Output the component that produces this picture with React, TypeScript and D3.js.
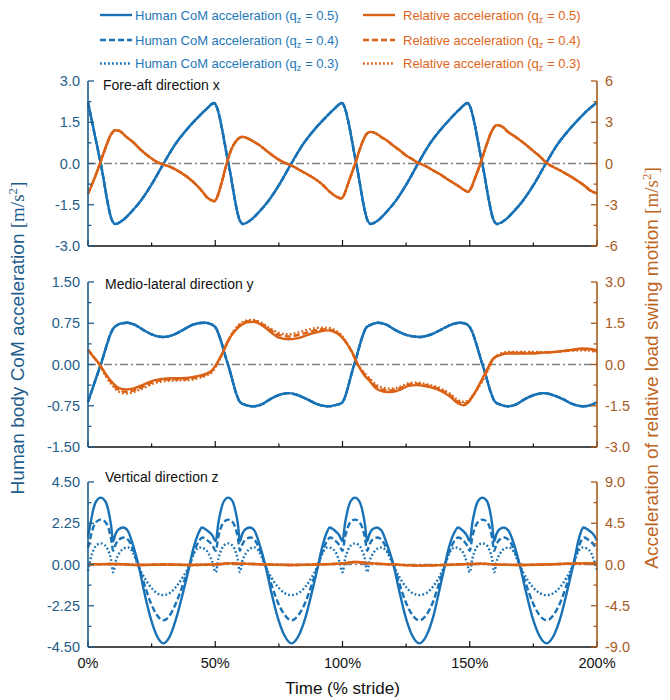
import React from "react";
import * as d3 from "d3";

type Pt = [number, number];

// ---------- stride axis ----------
const strideTicks = [0, 50, 100, 150, 200];
const strideMinorTicks = [25, 75, 125, 175];
const strideTickLabels = ["0%", "50%", "100%", "150%", "200%"];
const qLevels = ["0.5", "0.4", "0.3"];

// ---------- fore-aft direction x ----------
// human CoM acceleration [m/s²] (identical for every q_z)
const comAccX: Pt[] = [
  [0, 2.22], [5.0, 0.0], [9.6, -2.1], [10.6, -2.2],
  [13.7, -2.06], [16.8, -1.78], [20.7, -1.36], [25.0, -0.76], [29.7, 0], [34.0, 0.66], [38.3, 1.18], [42.6, 1.62], [46.5, 1.98], [49.6, 2.2],
  [50.1, 2.15], [55.2, 0], [59.8, -2.1], [60.8, -2.2],
  [63.9, -2.06], [67.0, -1.78], [70.9, -1.36], [75.2, -0.76], [79.9, 0], [84.2, 0.66], [88.5, 1.18], [92.8, 1.62], [96.7, 1.98], [99.8, 2.2],
  [100.3, 2.15], [105.4, 0], [110.0, -2.1], [111.0, -2.2],
  [114.1, -2.06], [117.1, -1.78], [120.9, -1.36], [125.1, -0.76], [129.7, 0], [133.9, 0.66], [138.1, 1.18], [142.3, 1.62], [146.1, 1.98], [149.2, 2.2],
  [149.7, 2.15], [154.9, 0], [159.6, -2.1], [160.6, -2.2],
  [163.8, -2.06], [166.9, -1.78], [170.8, -1.36], [175.2, -0.76], [179.9, 0], [184.2, 0.66], [188.6, 1.18], [192.9, 1.62], [196.8, 1.98], [200, 2.22],
];
// relative load swing acceleration [m/s²]
const relAccX05: Pt[] = [
  [0, -2.2], [2.5, -1.1], [4.7, 0], [7, 1.2], [9, 2.1], [10.8, 2.42], [12.5, 2.35], [15, 1.95], [17.7, 1.55], [21, 0.95], [24.4, 0.44], [27, 0.12], [29.6, -0.07], [33, -0.3], [36, -0.61], [39.5, -1.05], [42.7, -1.58], [45, -2.05], [46.6, -2.43], [48.8, -2.7], [49.7, -2.74],
  [50.5, -2.55], [52.5, -1.4], [54.5, 0], [56.5, 1.1], [58.5, 1.7], [60.5, 1.94], [62.5, 1.85], [65, 1.6], [67.6, 1.3], [70, 0.95], [72.8, 0.55], [75.5, 0.22], [78, 0], [80.5, -0.2], [83.3, -0.49], [86.5, -0.82], [89.9, -1.21], [92.5, -1.6], [95, -2.06], [97.5, -2.4], [99.5, -2.55],
  [100.3, -2.4], [102.5, -1.3], [105, 0], [107.5, 1.4], [109.5, 2.15], [111, 2.3], [113, 2.2], [115, 1.95], [117.2, 1.7], [120, 1.3], [122.4, 0.97], [124.7, 0.62], [127, 0.36], [129, 0.12], [131, -0.05], [133.3, -0.25], [135.5, -0.49], [138, -0.75], [140.8, -1.09], [143.5, -1.4], [146, -1.7], [148, -1.95], [149.3, -2.06],
  [150.2, -1.9], [152.2, -1.0], [154.2, 0], [156.5, 1.3], [158.5, 2.3], [160.7, 2.79], [163, 2.65], [165, 2.3], [167, 2.06], [169.7, 1.7], [172.3, 1.33], [175, 0.9], [177, 0.6], [180.2, 0.04], [182.8, -0.25], [185.4, -0.49], [188.5, -0.82], [192, -1.21], [195, -1.6], [197.2, -1.94], [200, -2.18],
];
const relAccX04: Pt[] = relAccX05;
const relAccX03: Pt[] = relAccX05;

// ---------- medio-lateral direction y ----------
const comAccY: Pt[] = [
  [0, -0.68], [5, 0], [10, 0.66], [11.5, 0.72], [13.5, 0.75], [15.5, 0.76], [18, 0.73], [22, 0.62], [26, 0.53], [29.5, 0.5], [33, 0.53], [37, 0.62], [41, 0.72], [44, 0.755], [46, 0.76], [48, 0.74], [50, 0.68],
  [55, 0], [59.7, -0.68], [61.5, -0.73], [63.5, -0.755], [65, -0.76], [68, -0.73], [72, -0.62], [76, -0.54], [79, -0.52], [82, -0.55], [86, -0.63], [90, -0.72], [93, -0.755], [94.5, -0.76], [97, -0.74], [99.7, -0.7],
  [104.6, 0], [109.5, 0.68], [111.5, 0.73], [114, 0.76], [117, 0.73], [121, 0.62], [125, 0.54], [130.4, 0.5], [135, 0.55], [139, 0.64], [143, 0.73], [146, 0.76], [148.5, 0.74], [150, 0.68],
  [155, 0], [160, -0.68], [162, -0.73], [165, -0.76], [168, -0.73], [172, -0.62], [175.5, -0.55], [179, -0.52], [183, -0.56], [187, -0.64], [191, -0.73], [194.6, -0.76], [197.5, -0.74], [200, -0.68],
];
const relAccY05: Pt[] = [
  [0, 0.52], [2, 0.3], [4.6, 0], [7, -0.35], [9.5, -0.65], [12, -0.85], [15, -0.91], [18, -0.87], [22, -0.72], [26, -0.58], [31, -0.51], [35, -0.5], [39, -0.49], [43, -0.42], [46.5, -0.33], [49, -0.18],
  [51, 0.1], [53, 0.45], [55, 0.85], [57.5, 1.2], [60, 1.42], [62.5, 1.53], [65, 1.55], [68, 1.45], [71.5, 1.2], [75, 0.98], [79, 0.92], [83, 0.97], [87, 1.1], [91, 1.2], [94.4, 1.24], [97, 1.18], [99, 1.06],
  [101, 0.85], [103.5, 0.5], [106, 0], [108.5, -0.38], [110.8, -0.62], [113, -0.86], [116, -0.98], [119, -1.0], [123, -0.9], [126, -0.78], [129, -0.75], [133, -0.8], [138, -0.93], [142, -1.15], [145.5, -1.42], [147.5, -1.48], [149.5, -1.38],
  [151.4, -1.12], [154, -0.68], [156.7, -0.2], [159.3, 0.22], [162, 0.34], [164.5, 0.4], [169, 0.4], [173.7, 0.4], [179, 0.43], [184, 0.46], [189, 0.52], [194.5, 0.58], [197.5, 0.57], [200, 0.52],
];
const relAccY04: Pt[] = [
  [0, 0.54], [2, 0.3], [4.5, 0], [7, -0.38], [9.5, -0.7], [12, -0.92], [15, -0.99], [18, -0.94], [22, -0.79], [26, -0.63], [31, -0.55], [35, -0.54], [39, -0.53], [43, -0.46], [46.5, -0.36], [49, -0.21],
  [51, 0.08], [53, 0.44], [55, 0.85], [57.5, 1.22], [60, 1.46], [62.5, 1.57], [65, 1.59], [68, 1.49], [71.5, 1.27], [75, 1.08], [79, 1.02], [83, 1.08], [87, 1.19], [91, 1.27], [94.4, 1.28], [97, 1.2], [99, 1.08],
  [101, 0.86], [103.5, 0.49], [106, 0], [108.5, -0.33], [110.8, -0.56], [113, -0.78], [116, -0.92], [119, -0.94], [123, -0.85], [126, -0.73], [129, -0.7], [133, -0.76], [138, -0.89], [142, -1.1], [145.5, -1.36], [147.5, -1.42], [149.5, -1.34],
  [151.4, -1.11], [154, -0.72], [156.7, -0.25], [159.3, 0.21], [162, 0.36], [164.5, 0.42], [169, 0.43], [173.7, 0.43], [179, 0.44], [184, 0.46], [189, 0.51], [194.5, 0.55], [197.5, 0.54], [200, 0.48],
];
const relAccY03: Pt[] = [
  [0, 0.55], [2, 0.3], [4.4, 0], [7, -0.42], [9.5, -0.75], [12, -0.98], [15, -1.06], [18, -1.0], [22, -0.85], [26, -0.68], [31, -0.6], [35, -0.58], [39, -0.57], [43, -0.5], [46.5, -0.4], [49, -0.25],
  [51, 0.05], [53, 0.42], [55, 0.85], [57.5, 1.25], [60, 1.5], [62.5, 1.6], [65, 1.62], [68, 1.52], [71.5, 1.32], [75, 1.15], [79, 1.1], [83, 1.17], [87, 1.28], [91, 1.34], [94.4, 1.33], [97, 1.25], [99, 1.12],
  [101, 0.88], [103.5, 0.48], [106, 0], [108.5, -0.3], [110.8, -0.52], [113, -0.72], [116, -0.85], [119, -0.88], [123, -0.8], [126, -0.68], [129, -0.66], [133, -0.72], [138, -0.85], [142, -1.05], [145.5, -1.3], [147.5, -1.36], [149.5, -1.3],
  [151.4, -1.1], [154, -0.75], [156.7, -0.3], [159.3, 0.2], [162, 0.38], [164.5, 0.45], [169, 0.46], [173.7, 0.46], [179, 0.45], [184, 0.46], [189, 0.5], [194.5, 0.52], [197.5, 0.5], [200, 0.45],
];

// ---------- vertical direction z ----------
const comAccZ05: Pt[] = [
  [0, 1.5], [1, 2.25], [2, 2.95], [3.2, 3.45], [5, 3.65], [6.8, 3.45], [8, 2.95], [9, 2.2], [9.9, 1.27], [10.7, 1.62], [11.9, 1.9], [13.9, 2.02], [15.6, 1.85], [17.6, 1.1], [19.8, 0], [22, -1.44], [24.5, -2.87], [27, -3.87], [29.6, -4.3], [32.3, -3.87], [34.8, -2.87], [37.5, -1.44], [40, 0], [41, 0.65], [42.2, 1.25], [43.4, 1.7], [44.8, 2.02], [46.6, 1.88], [48.8, 1.6], [50.2, 1.27],
  [51.2, 2.25], [52.2, 2.95], [53.4, 3.45], [55.1, 3.65], [56.8, 3.45], [57.9, 2.95], [58.9, 2.2], [59.7, 1.27], [60.5, 1.62], [61.7, 1.9], [63.7, 2.02], [65.4, 1.85], [67.4, 1.1], [69.6, 0], [71.9, -1.44], [74.5, -2.87], [77.2, -3.87], [80, -4.3], [82.8, -3.87], [85.5, -2.87], [88.1, -1.44], [90.5, 0], [91.5, 0.65], [92.6, 1.25], [93.7, 1.7], [95, 2.02], [96.7, 1.88], [98.7, 1.6], [100, 1.27],
  [101, 2.25], [102, 2.95], [103.2, 3.45], [104.9, 3.65], [106.6, 3.45], [107.8, 2.95], [108.8, 2.2], [109.7, 1.27], [110.5, 1.62], [111.6, 1.9], [113.5, 2.02], [115.3, 1.85], [117.5, 1.1], [120, 0], [122.3, -1.44], [124.8, -2.87], [127.4, -3.87], [130.2, -4.3], [133, -3.87], [135.6, -2.87], [138, -1.44], [140.3, 0], [141.3, 0.65], [142.5, 1.25], [143.8, 1.7], [145.4, 2.02], [147, 1.88], [148.8, 1.6], [150, 1.27],
  [151, 2.25], [152, 2.95], [153.2, 3.45], [155, 3.65], [156.8, 3.45], [157.9, 2.95], [158.8, 2.2], [159.6, 1.27], [160.4, 1.62], [161.5, 1.9], [163.4, 2.02], [165.2, 1.85], [167.4, 1.1], [169.6, 0], [172, -1.44], [174.6, -2.87], [177.3, -3.87], [180.2, -4.3], [183, -3.87], [185.7, -2.87], [188.3, -1.44], [190.7, 0], [191.7, 0.65], [192.6, 1.25], [193.5, 1.7], [194.6, 2.02], [196.6, 1.88], [198.8, 1.6], [200, 1.3],
];
const comAccZ04: Pt[] = [
  [0, 0.9], [1, 1.5], [2, 2.0], [3.2, 2.32], [5, 2.45], [6.8, 2.32], [8, 2.0], [9, 1.45], [9.9, 0.75], [10.7, 1.05], [11.9, 1.33], [14.1, 1.47], [15.9, 1.32], [17.7, 0.8], [19.7, 0], [22, -1.02], [24.5, -2.03], [27, -2.74], [29.6, -3.05], [32.3, -2.74], [34.8, -2.03], [37.5, -1.02], [40, 0], [41.1, 0.5], [42.4, 0.95], [43.7, 1.3], [45, 1.47], [46.8, 1.33], [48.9, 1.05], [50.2, 0.75],
  [51.2, 1.5], [52.2, 2.0], [53.4, 2.32], [55.1, 2.45], [56.8, 2.32], [57.9, 2.0], [58.9, 1.45], [59.7, 0.75], [60.5, 1.05], [61.7, 1.33], [63.9, 1.47], [65.6, 1.32], [67.5, 0.8], [69.6, 0], [71.9, -1.02], [74.5, -2.03], [77.2, -2.74], [80, -3.05], [82.8, -2.74], [85.5, -2.03], [88.1, -1.02], [90.5, 0], [91.6, 0.5], [92.8, 0.95], [94, 1.3], [95.2, 1.47], [96.9, 1.33], [98.8, 1.05], [100, 0.75],
  [101, 1.5], [102, 2.0], [103.2, 2.32], [104.9, 2.45], [106.6, 2.32], [107.8, 2.0], [108.8, 1.45], [109.7, 0.75], [110.5, 1.05], [111.6, 1.33], [113.7, 1.47], [115.5, 1.32], [117.6, 0.8], [120, 0], [122.3, -1.02], [124.8, -2.03], [127.4, -2.74], [130.2, -3.05], [133, -2.74], [135.6, -2.03], [138, -1.02], [140.3, 0], [141.4, 0.5], [142.7, 0.95], [144, 1.3], [145.6, 1.47], [147.2, 1.33], [148.9, 1.05], [150, 0.75],
  [151, 1.5], [152, 2.0], [153.2, 2.32], [155, 2.45], [156.8, 2.32], [157.9, 2.0], [158.8, 1.45], [159.6, 0.75], [160.4, 1.05], [161.5, 1.33], [163.6, 1.47], [165.4, 1.32], [167.5, 0.8], [169.6, 0], [172, -1.02], [174.6, -2.03], [177.3, -2.74], [180.2, -3.05], [183, -2.74], [185.7, -2.03], [188.3, -1.02], [190.7, 0], [191.8, 0.5], [192.8, 0.95], [193.8, 1.3], [194.9, 1.47], [196.8, 1.33], [198.9, 1.05], [200, 0.8],
];
const comAccZ03: Pt[] = [
  [0, -0.35], [1, 0.3], [2.2, 0.8], [3.5, 1.07], [5, 1.15], [6.5, 1.07], [7.8, 0.8], [9, 0.3], [9.9, -0.42], [10.8, 0.15], [12.3, 0.62], [14, 0.87], [15.7, 0.93], [17.5, 0.7], [19.5, 0], [22, -0.68], [24.5, -1.2], [27, -1.55], [29.6, -1.67], [32.2, -1.55], [34.7, -1.2], [37.3, -0.68], [40, 0], [42, 0.7], [43.8, 0.93], [45.6, 0.87], [47.3, 0.62], [48.8, 0.15], [50.2, -0.42],
  [51.2, 0.3], [52.4, 0.8], [53.7, 1.07], [55.1, 1.15], [56.5, 1.07], [57.7, 0.8], [58.8, 0.3], [59.7, -0.42], [60.6, 0.15], [62.1, 0.62], [63.8, 0.87], [65.5, 0.93], [67.3, 0.7], [69.4, 0], [71.9, -0.68], [74.5, -1.2], [77.2, -1.55], [80, -1.67], [82.8, -1.55], [85.5, -1.2], [88, -0.68], [90.5, 0], [92.4, 0.7], [94.2, 0.93], [95.9, 0.87], [97.5, 0.62], [98.8, 0.15], [100, -0.42],
  [101, 0.3], [102.2, 0.8], [103.5, 1.07], [104.9, 1.15], [106.3, 1.07], [107.6, 0.8], [108.8, 0.3], [109.7, -0.42], [110.6, 0.15], [112.1, 0.62], [113.8, 0.87], [115.5, 0.93], [117.4, 0.7], [119.8, 0], [122.3, -0.68], [124.8, -1.2], [127.4, -1.55], [130.2, -1.67], [133, -1.55], [135.6, -1.2], [138, -0.68], [140.3, 0], [142.3, 0.7], [144.1, 0.93], [145.8, 0.87], [147.5, 0.62], [148.8, 0.15], [150, -0.42],
  [151, 0.3], [152.2, 0.8], [153.5, 1.07], [155, 1.15], [156.5, 1.07], [157.7, 0.8], [158.8, 0.3], [159.6, -0.42], [160.5, 0.15], [162, 0.62], [163.7, 0.87], [165.4, 0.93], [167.3, 0.7], [169.4, 0], [172, -0.68], [174.6, -1.2], [177.3, -1.55], [180.2, -1.67], [183, -1.55], [185.7, -1.2], [188.2, -0.68], [190.7, 0], [192.6, 0.7], [194.4, 0.93], [196.1, 0.87], [197.7, 0.62], [199, 0.15], [200, -0.3],
];
const relAccZ: Pt[] = [
  [0, 0.0], [10, 0.05], [20, -0.05], [30, 0.0], [40, -0.05], [50, 0.0], [55, 0.12], [60, 0.1], [70, 0.0], [80, -0.05], [90, 0.0], [100, 0.12], [105, 0.28], [110, 0.15], [120, 0.0], [130, -0.12], [140, -0.05], [150, 0.05], [155, 0.08], [160, 0.0], [170, -0.05], [180, 0.0], [190, 0.1], [200, 0.15],
];

// ---------- axis ticks ----------
const leftTicksX = [-3, -1.5, 0, 1.5, 3];
const rightTicksX = [-6, -3, 0, 3, 6];
const leftTicksY = [-1.5, -0.75, 0, 0.75, 1.5];
const rightTicksY = [-3, -1.5, 0, 1.5, 3];
const leftTicksZ = [-4.5, -2.25, 0, 2.25, 4.5];
const rightTicksZ = [-9, -4.5, 0, 4.5, 9];

// ---------- styling ----------
const W = 670;
const H = 700;
const PLOT_L = 88;
const PLOT_R = 597;
const BLUE = "#1872b5";
const ORANGE = "#da6216";
const LEFT_AXIS = "#1f5d8a";
const RIGHT_AXIS = "#a85b1e";
const RIGHT_TITLE = "#bd651f";
const LEGEND_BLUE = "#1e78b9";
const LEGEND_ORANGE = "#e0651a";
const SANS = "'Liberation Sans', Arial, Helvetica, sans-serif";
const SERIF = "'Liberation Serif', 'Times New Roman', serif";
const DASHES = ["none", "6,3", "1.8,2.2"];

const locale = d3.formatLocale({ decimal: ".", thousands: ",", grouping: [3], currency: ["", ""], minus: "-" });

interface PanelSpec {
  top: number;
  bottom: number;
  leftTicks: number[];
  rightTicks: number[];
  leftFmt: string;
  rightFmt: string;
  title: string;
  titleX: number;
  titleY: number;
  com: Pt[][];
  rel: Pt[][];
  showX: boolean;
}

const panels: PanelSpec[] = [
  {
    top: 81, bottom: 246, leftTicks: leftTicksX, rightTicks: rightTicksX, leftFmt: ".1f", rightFmt: ".0f",
    title: "Fore-aft direction x", titleX: 103, titleY: 90,
    com: [comAccX, comAccX, comAccX], rel: [relAccX05, relAccX04, relAccX03], showX: false,
  },
  {
    top: 282, bottom: 447, leftTicks: leftTicksY, rightTicks: rightTicksY, leftFmt: ".2f", rightFmt: ".1f",
    title: "Medio-lateral direction y", titleX: 105, titleY: 289,
    com: [comAccY, comAccY, comAccY], rel: [relAccY05, relAccY04, relAccY03], showX: false,
  },
  {
    top: 482, bottom: 647, leftTicks: leftTicksZ, rightTicks: rightTicksZ, leftFmt: ".2f", rightFmt: ".1f",
    title: "Vertical direction z", titleX: 105, titleY: 482,
    com: [comAccZ05, comAccZ04, comAccZ03], rel: [relAccZ, relAccZ, relAccZ], showX: true,
  },
];

const x = d3.scaleLinear().domain([0, 200]).range([PLOT_L, PLOT_R]);

function midpoints(ticks: number[]): number[] {
  return d3.pairs(ticks).map(([a, b]) => (a + b) / 2);
}

function Panel({ p }: { p: PanelSpec }) {
  const lMax = d3.max(p.leftTicks) as number;
  const rMax = d3.max(p.rightTicks) as number;
  const yL = d3.scaleLinear().domain([-lMax, lMax]).range([p.bottom, p.top]);
  const yR = d3.scaleLinear().domain([-rMax, rMax]).range([p.bottom, p.top]);
  const lineL = d3.line<Pt>().x((d) => x(d[0])).y((d) => yL(d[1])).curve(d3.curveMonotoneX);
  const lineR = d3.line<Pt>().x((d) => x(d[0])).y((d) => yR(d[1])).curve(d3.curveMonotoneX);
  const fL = locale.format(p.leftFmt);
  const fR = locale.format(p.rightFmt);
  const MAJ = 6;
  const MIN = 3.5;

  return (
    <g>
      {/* zero reference */}
      <line x1={PLOT_L} x2={PLOT_R} y1={yL(0)} y2={yL(0)} stroke="#808080" strokeWidth={1.3} strokeDasharray="8,3,2,3" />

      {/* human CoM acceleration */}
      {[2, 1, 0].map((i) => (
        <path key={"c" + i} d={lineL(p.com[i]) || ""} fill="none" stroke={BLUE} strokeWidth={2.4}
          strokeDasharray={DASHES[i]} strokeLinejoin="round" />
      ))}
      {/* relative load swing acceleration */}
      {[2, 1, 0].map((i) => (
        <path key={"r" + i} d={lineR(p.rel[i]) || ""} fill="none" stroke={ORANGE} strokeWidth={2.4}
          strokeDasharray={DASHES[i]} strokeLinejoin="round" />
      ))}

      {/* bottom axis */}
      <line x1={PLOT_L} x2={PLOT_R} y1={p.bottom} y2={p.bottom} stroke="#111" strokeWidth={1.4} />
      {strideTicks.map((t) => (
        <line key={"xt" + t} x1={x(t)} x2={x(t)} y1={p.bottom} y2={p.bottom - MAJ} stroke="#111" strokeWidth={1.2} />
      ))}
      {strideMinorTicks.map((t) => (
        <line key={"xm" + t} x1={x(t)} x2={x(t)} y1={p.bottom} y2={p.bottom - MIN} stroke="#111" strokeWidth={1.2} />
      ))}
      {p.showX &&
        strideTicks.map((t, i) => (
          <text key={"xl" + t} x={x(t)} y={p.bottom + 21} textAnchor="middle" fontSize={14.5} fill="#111">
            {strideTickLabels[i]}
          </text>
        ))}

      {/* left axis */}
      <line x1={PLOT_L} x2={PLOT_L} y1={p.top} y2={p.bottom} stroke={LEFT_AXIS} strokeWidth={1.6} />
      {p.leftTicks.map((t) => (
        <g key={"lt" + t}>
          <line x1={PLOT_L} x2={PLOT_L + MAJ} y1={yL(t)} y2={yL(t)} stroke={LEFT_AXIS} strokeWidth={1.3} />
          <text x={PLOT_L - 8} y={yL(t)} dy="0.36em" textAnchor="end" fontSize={14.5} fill={LEFT_AXIS}>
            {fL(t)}
          </text>
        </g>
      ))}
      {midpoints(p.leftTicks).map((t) => (
        <line key={"lm" + t} x1={PLOT_L} x2={PLOT_L + MIN} y1={yL(t)} y2={yL(t)} stroke={LEFT_AXIS} strokeWidth={1.3} />
      ))}

      {/* right axis */}
      <line x1={PLOT_R} x2={PLOT_R} y1={p.top} y2={p.bottom} stroke={RIGHT_AXIS} strokeWidth={1.6} />
      {p.rightTicks.map((t) => (
        <g key={"rt" + t}>
          <line x1={PLOT_R} x2={PLOT_R - MAJ} y1={yR(t)} y2={yR(t)} stroke={RIGHT_AXIS} strokeWidth={1.3} />
          <text x={PLOT_R + 8} y={yR(t)} dy="0.36em" textAnchor="start" fontSize={14.5} fill={RIGHT_AXIS}>
            {fR(t)}
          </text>
        </g>
      ))}
      {midpoints(p.rightTicks).map((t) => (
        <line key={"rm" + t} x1={PLOT_R} x2={PLOT_R - MIN} y1={yR(t)} y2={yR(t)} stroke={RIGHT_AXIS} strokeWidth={1.3} />
      ))}

      <text x={p.titleX} y={p.titleY} fontSize={14} fill="#111">{p.title}</text>
    </g>
  );
}

function Legend() {
  const rows = [15, 40, 63.5];
  return (
    <g fontSize={13}>
      {qLevels.map((q, i) => (
        <g key={q}>
          <line x1={100} x2={132} y1={rows[i]} y2={rows[i]} stroke={BLUE} strokeWidth={2.4} strokeDasharray={DASHES[i]} />
          <text x={135} y={rows[i] + 4.5} fill={LEGEND_BLUE}>
            Human CoM acceleration (q<tspan dy={3} fontSize={9}>z</tspan>
            <tspan dy={-3}> = {q})</tspan>
          </text>
          <line x1={363} x2={395} y1={rows[i]} y2={rows[i]} stroke={ORANGE} strokeWidth={2.4} strokeDasharray={DASHES[i]} />
          <text x={403} y={rows[i] + 4.5} fill={LEGEND_ORANGE}>
            Relative acceleration (q<tspan dy={3} fontSize={9}>z</tspan>
            <tspan dy={-3}> = {q})</tspan>
          </text>
        </g>
      ))}
    </g>
  );
}

export default function App() {
  return (
    <svg width={W} height={H} viewBox={`0 0 ${W} ${H}`} fontFamily={SANS}
      style={{ position: "absolute", left: 0, top: 0, background: "#fff", display: "block" }}>
      <Legend />
      {panels.map((p, i) => (
        <Panel key={i} p={p} />
      ))}
      <text transform="translate(24,338) rotate(-90)" textAnchor="middle" fontSize={19} fill={LEFT_AXIS}>
        Human body CoM acceleration{" "}
        <tspan fontFamily={SERIF}>[m/s<tspan dy={-7} fontSize={13}>2</tspan><tspan dy={7}>]</tspan></tspan>
      </text>
      <text transform="translate(658,368) rotate(-90)" textAnchor="middle" fontSize={19} fill={RIGHT_TITLE}>
        Acceleration of relative load swing motion{" "}
        <tspan fontFamily={SERIF}>[m/s<tspan dy={-7} fontSize={13}>2</tspan><tspan dy={7}>]</tspan></tspan>
      </text>
      <text x={(PLOT_L + PLOT_R) / 2} y={694} textAnchor="middle" fontSize={17} fill="#111">
        Time (% stride)
      </text>
    </svg>
  );
}
